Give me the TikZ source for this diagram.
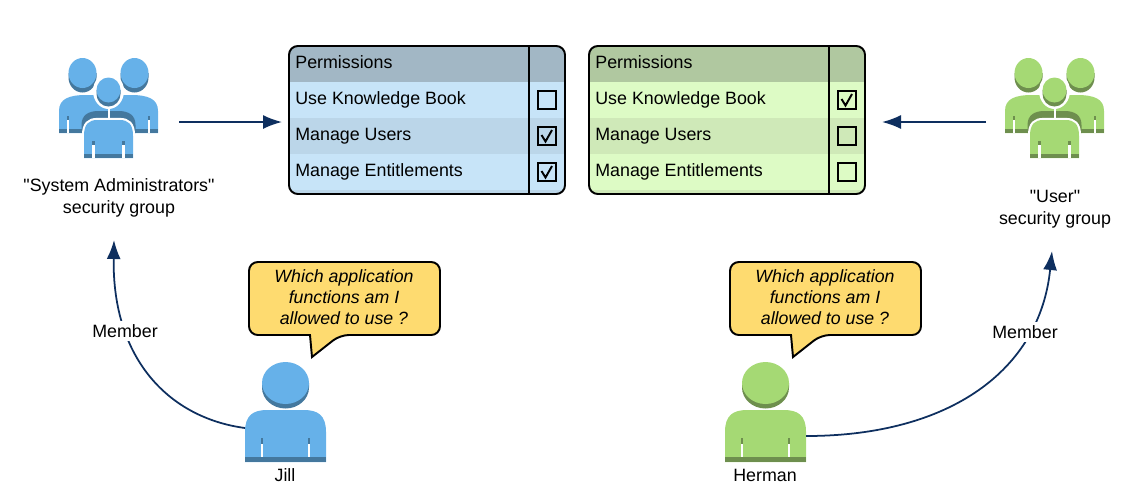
\documentclass[tikz,border=0pt]{standalone}
\usepackage{fontspec}
\setmainfont{Liberation Sans}[Ligatures=TeXOff]
\usepackage{tikz}
\usetikzlibrary{arrows.meta}

\definecolor{bluemain}{HTML}{66B1E9}
\definecolor{bluedark}{HTML}{44789E}
\definecolor{greenmain}{HTML}{A5D974}
\definecolor{greendark}{HTML}{6E8F4E}
\definecolor{bluehead}{HTML}{A2B7C5}
\definecolor{bluerow}{HTML}{C7E4F8}
\definecolor{bluealt}{HTML}{BBD6E9}
\definecolor{greenhead}{HTML}{B0C8A0}
\definecolor{greenrow}{HTML}{DDFBC5}
\definecolor{greenalt}{HTML}{CFE9B8}
\definecolor{bubblefill}{HTML}{FEDB70}
\definecolor{linkblue}{HTML}{0E2F5F}

\tikzset{
    labeltext/.style={font=\fontsize{10.15}{12.5}\selectfont,inner sep=0pt,align=center},
    rowtext/.style={labeltext,anchor=base west},
    asktext/.style={labeltext,anchor=base,font=\fontsize{10.1}{12.5}\selectfont\itshape},
    flowline/.style={draw=linkblue,line width=1pt,-{Latex[length=3.8mm,width=2.8mm]}},
    tickbox/.style={draw=black,line width=1.1pt,fill=none,minimum size=0.36cm,inner sep=0pt}
}

% body with rounded shoulders: centre x, top y, half width, height
\newcommand{\bodyshape}[4]{
    (#1-#3,#2+#4) -- (#1-#3,#2+0.42*#4)
    .. controls (#1-#3,#2+0.1*#4) and (#1-0.8*#3,#2) .. (#1-0.45*#3,#2)
    -- (#1+0.45*#3,#2)
    .. controls (#1+0.8*#3,#2) and (#1+#3,#2+0.1*#4) .. (#1+#3,#2+0.42*#4)
    -- (#1+#3,#2+#4) -- cycle
}
% same four, then colours, arm slit place and where the slit ends
\newcommand{\bodyicon}[8]{
    \fill[#5] \bodyshape{#1}{#2}{#3}{#4};
    \fill[#6] (#1-#3,#2+0.9*#4) rectangle (#1+#3,#2+#4);
    \foreach \side in {-1,1} {
        \fill[#6] (#1+\side*#7*#3-1.3,#2+0.54*#4) rectangle (#1+\side*#7*#3+1.3,#2+0.65*#4);
        \fill[white] (#1+\side*#7*#3-1.3,#2+0.65*#4) rectangle (#1+\side*#7*#3+1.3,#2+#8*#4);
    }
}
% head: centre x, centre y, rx, ry, drop, main, dark
\newcommand{\headmark}[7]{
    \fill[#7] (#1-#3,#2) -- (#1-#3,#2+#5) arc[start angle=180,end angle=0,x radius=#3,y radius=#4] -- (#1+#3,#2) -- cycle;
    \fill[#6] (#1,#2) ellipse[x radius=#3,y radius=#4];
}
\newcommand{\personicon}[3]{
    \headmark{#1}{383}{23.5}{21}{4.5}{#2}{#3}
    \bodyicon{#1}{410}{40.5}{52}{#2}{#3}{0.58}{0.9}
}
\newcommand{\groupicon}[3]{
    \headmark{#1-26}{73}{14}{15}{4.5}{#2}{#3}
    \headmark{#1+26}{73}{14}{15}{4.5}{#2}{#3}
    \bodyicon{#1}{95}{49.5}{38}{#2}{#3}{0.82}{1}
    \fill[#3] (#1-27,133) -- (#1-27,125) .. controls (#1-27,115) and (#1-20,111) .. (#1-10,111)
        -- (#1+10,111) .. controls (#1+20,111) and (#1+27,115) .. (#1+27,125) -- (#1+27,133) -- cycle;
    \draw[white,line width=2.4pt] \bodyshape{#1}{120}{24.5}{38};
    \fill[white] (#1-1,100) rectangle (#1+1,120);
    \fill[white] (#1-26,135) rectangle (#1+26,160);
    \bodyicon{#1}{120}{24.5}{38}{#2}{#3}{0.61}{1}
    \fill[white] (#1,91) ellipse[x radius=15.5,y radius=18];
    \headmark{#1}{90}{12}{12.5}{4}{#2}{#3}
}
% table: name, left x, header, row, alternate row, ticks of the three rows
\newcommand{\permtable}[8]{
    \begin{scope}
        \clip[rounded corners=5] (#2,46) rectangle (#2+276,194);
        \fill[#3] (#2,46) rectangle (#2+276,82);
        \fill[#4] (#2,82) rectangle (#2+276,118);
        \fill[#5] (#2,118) rectangle (#2+276,154);
        \fill[#4] (#2,154) rectangle (#2+276,190);
        \fill[#5] (#2,190) rectangle (#2+276,194);
    \end{scope}
    \draw[line width=1.1pt,rounded corners=5] (#2,46) rectangle (#2+276,194);
    \draw[line width=1.1pt] (#2+240,46) -- (#2+240,194);
    \node[rowtext] (#1title) at (#2+6,68) {Permissions};
    \node[rowtext] (#1rowa) at (#2+6,104) {Use Knowledge Book};
    \node[rowtext] (#1rowb) at (#2+6,140) {Manage Users};
    \node[rowtext] (#1rowc) at (#2+6,176) {Manage Entitlements};
    \foreach \boxname/\boxy/\ticked in {a/100/#6,b/136/#7,c/172/#8} {
        \node[tickbox] (#1box\boxname) at (#2+258,\boxy) {};
        \ifnum\ticked=1
            \draw[line width=1.1pt] (#2+252.5,\boxy-1) -- (#2+256.5,\boxy+5.5) -- (#2+263,\boxy-6);
        \fi
    }
}
% bubble: name, left x
\newcommand{\askbubble}[2]{
    \draw[fill=bubblefill,line width=1.1pt,line join=miter,rounded corners=5]
        (#2,262) -- (#2+191,262) -- (#2+191,335) -- (#2+91,335)
        [sharp corners] -- (#2+63,357) -- (#2+61,335)
        [rounded corners=5] -- (#2,335) -- cycle;
    \node[asktext] (#1a) at (#2+95,282) {Which application};
    \node[asktext] (#1b) at (#2+95,303) {functions am I};
    \node[asktext] (#1c) at (#2+95,324) {allowed to use ?};
}

\begin{document}
\begin{tikzpicture}[x=0.02cm,y=-0.02cm]
    \useasboundingbox (0,0) rectangle (1148,501);
    \groupicon{108.5}{bluemain}{bluedark}
    \groupicon{1054.5}{greenmain}{greendark}
    \personicon{285.5}{bluemain}{bluedark}
    \personicon{765.5}{greenmain}{greendark}

    \permtable{admin}{289}{bluehead}{bluerow}{bluealt}{0}{1}{1}
    \permtable{user}{589}{greenhead}{greenrow}{greenalt}{1}{0}{0}

    \askbubble{jillask}{249}
    \askbubble{hermanask}{730}

    \node[labeltext] (admingroup) at (119,198) {"System Administrators"\\security group};
    \node[labeltext] (usergroup) at (1055,209) {"User"\\security group};
    \node[labeltext,anchor=base] (jill) at (285,481) {Jill};
    \node[labeltext,anchor=base] (herman) at (765,481) {Herman};

    \coordinate (adminout) at (179,122);
    \coordinate (adminin) at (282,122);
    \coordinate (userout) at (986,122);
    \coordinate (userin) at (882,122);
    \coordinate (jillside) at (245,428);
    \coordinate (adminfoot) at (114,240);
    \coordinate (hermanside) at (806,436);
    \coordinate (userfoot) at (1052,251);

    \draw[flowline] (adminout)--(adminin);
    \draw[flowline] (userout)--(userin);
    \draw[flowline] (jillside) .. controls (170,418) and (112,360) .. (adminfoot);
    \draw[flowline] (hermanside) .. controls (950,436) and (1040,370) .. (userfoot);
    \node[labeltext,fill=white,inner sep=2pt] (jillmember) at (125,331) {Member};
    \node[labeltext,fill=white,inner sep=2pt] (hermanmember) at (1025,332) {Member};
\end{tikzpicture}
\end{document}
